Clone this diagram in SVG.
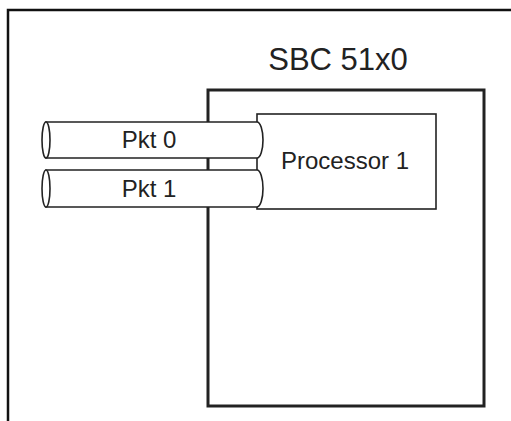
<svg xmlns="http://www.w3.org/2000/svg" width="511" height="421" viewBox="0 0 511 421">
<style>
text{font-family:"Liberation Sans",Arial,sans-serif;fill:#222;text-anchor:middle}
.frame{fill:none;stroke:#111;stroke-width:2.5}
.box{fill:#fff;stroke:#222;stroke-width:3}
.proc{fill:#fff;stroke:#222;stroke-width:1.6}
.cyl{fill:#fff;stroke:#222;stroke-width:1.6}
</style>
<rect width="511" height="421" fill="#fff"/>
<path class="frame" d="M8,421 V10 H511"/>
<g id="sbc">
<rect class="box" x="208" y="90" width="276" height="316"/>
<text x="338" y="70" font-size="31">SBC 51x0</text>
</g>
<g id="processor1">
<rect class="proc" x="257" y="114" width="179" height="95"/>
<text x="345" y="169" font-size="24">Processor 1</text>
</g>
<g id="connectors">
<g id="pkt0">
<path class="cyl" d="M46,122 H257 A6,18 0 0 1 257,158 H46 Z"/>
<ellipse class="cyl" cx="46" cy="140" rx="4" ry="18"/>
<text x="149" y="148" font-size="24">Pkt 0</text>
</g>
<g id="pkt1">
<path class="cyl" d="M46,170 H257 A6,18.5 0 0 1 257,207 H46 Z"/>
<ellipse class="cyl" cx="46" cy="188.5" rx="4" ry="18.5"/>
<text x="149" y="197" font-size="24">Pkt 1</text>
</g>
</g>
</svg>
